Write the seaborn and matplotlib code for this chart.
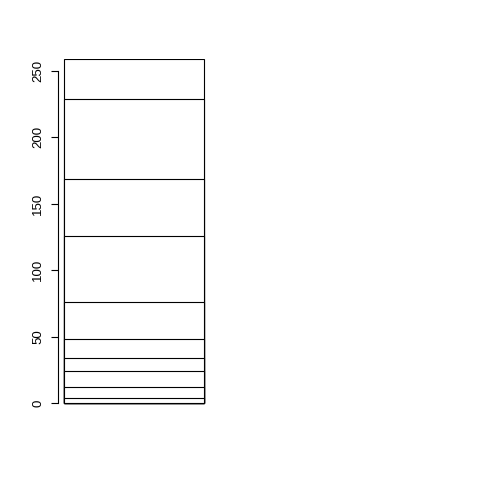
import numpy as np
import pandas as pd
import matplotlib
matplotlib.use("Agg")
import matplotlib.pyplot as plt
import seaborn as sns

# segment heights of the single stacked bar (bottom to top)
segments = [4, 8, 12, 10, 14, 28, 50, 43, 60, 30]
y_ticks = [0, 50, 100, 150, 200, 250]

sns.set_style("white")
plt.rcParams['font.family'] = ['Liberation Sans', 'DejaVu Sans']

tops = np.cumsum(segments)
df = pd.DataFrame({'bar': ['a'] * len(tops), 'top': tops, 'layer': range(len(tops))})

fig = plt.figure(figsize=(4.8, 4.8), dpi=100)
# axes placed in pixel terms: x 58..450, y 59..407 (from top)
ax = fig.add_axes([58 / 480, (480 - 407) / 480, (450 - 58) / 480, (407 - 59) / 480])

# draw cumulative tops from tallest to shortest so the stack edges show
for i in range(len(tops) - 1, -1, -1):
    sub = df[df['layer'] == i]
    sns.barplot(data=sub, x='bar', y='top', color='white', saturation=1,
                edgecolor='black', linewidth=0.8, width=0.8, ax=ax)

ax.set_xlim(-0.4 - 6 / 175, -0.4 - 6 / 175 + 392 / 175)
ax.set_ylim(-3.0, 259)
ax.set_xlabel('')
ax.set_ylabel('')
ax.set_xticks([])
ax.set_yticks(y_ticks)
ax.set_yticklabels([str(t) for t in y_ticks], rotation=90, va='center', fontsize=9.5)
for s in ['top', 'right', 'bottom']:
    ax.spines[s].set_visible(False)
ax.spines['left'].set_bounds(0, 250)
ax.spines['left'].set_linewidth(0.8)
ax.spines['left'].set_color('black')
ax.tick_params(axis='y', direction='out', length=5, width=0.8, pad=5, colors='black', left=True)

fig.savefig('out.png', dpi=100)
